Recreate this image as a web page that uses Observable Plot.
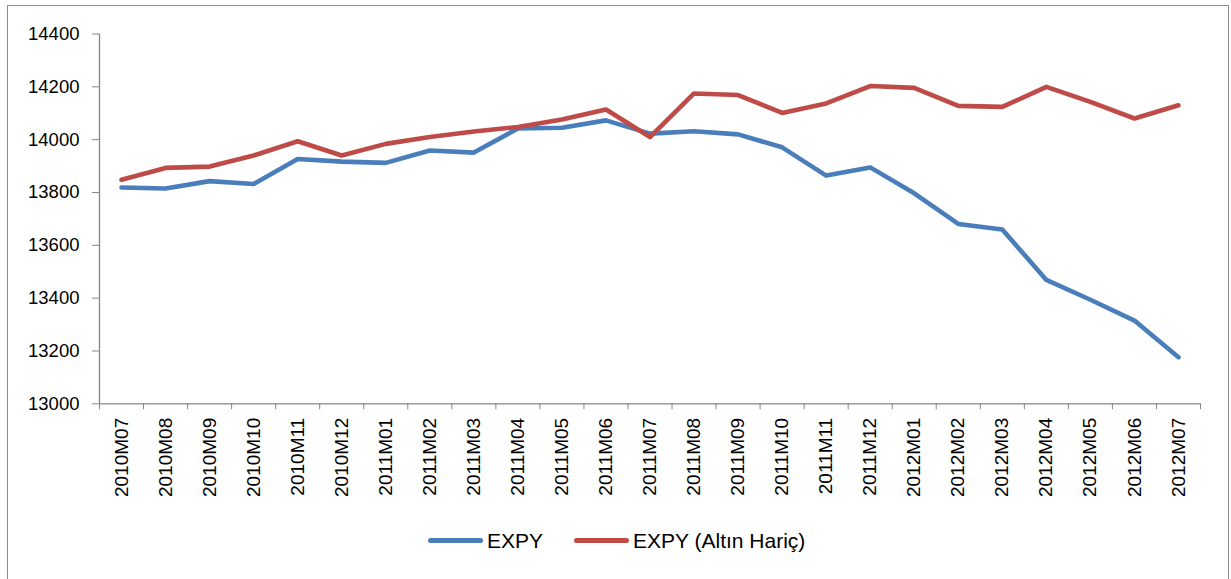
<!DOCTYPE html>
<html>
<head>
<meta charset="utf-8">
<script src="https://cdn.jsdelivr.net/npm/d3@7"></script>
<script src="https://cdn.jsdelivr.net/npm/@observablehq/plot@0.6"></script>
<style>
  body { margin: 0; background: #fff; font-family: "Liberation Sans", Arial, sans-serif; }
  #wrap { position: relative; width: 1231px; height: 579px; overflow: hidden; background: #fff; }
  #frame { position: absolute; left: 7px; top: 5px; width: 1222px; height: 620px; border: 1px solid #8c8c8c; box-sizing: border-box; }
  #chart { position: absolute; left: 0; top: 0; }
  #legend { position: absolute; top: 528px; left: 428px; display: flex; align-items: center; font-size: 21px; line-height: 25px; color: #000; white-space: nowrap; }
  .sw { display: inline-block; width: 55px; height: 5px; border-radius: 3px; margin-right: 4px; }
  .item { display: flex; align-items: center; }
</style>
</head>
<body>
<div id="wrap">
  <div id="frame"></div>
  <div id="chart"></div>
  <div id="legend"></div>
</div>
<script>
const months = ["2010M07","2010M08","2010M09","2010M10","2010M11","2010M12","2011M01","2011M02","2011M03","2011M04","2011M05","2011M06","2011M07","2011M08","2011M09","2011M10","2011M11","2011M12","2012M01","2012M02","2012M03","2012M04","2012M05","2012M06","2012M07"];
const expy = [13819,13815,13843,13832,13927,13917,13912,13959,13951,14042,14045,14073,14023,14032,14020,13971,13864,13895,13797,13681,13660,13469,13394,13315,13176];
const expyAltinHaric = [13848,13893,13898,13940,13994,13940,13984,14010,14031,14048,14076,14114,14010,14175,14169,14101,14137,14203,14196,14128,14124,14200,14143,14080,14130];
const seriesNames = ["EXPY", "EXPY (Altın Hariç)"];
const seriesColors = ["#4A7EBB", "#BE4B48"];
const yTicks = [13000,13200,13400,13600,13800,14000,14200,14400];

const rows = [];
months.forEach((m, i) => {
  rows.push({i, month: m, series: seriesNames[0], value: expy[i]});
});
months.forEach((m, i) => {
  rows.push({i, month: m, series: seriesNames[1], value: expyAltinHaric[i]});
});

const axisGray = "#868686";
const font = "'Liberation Sans', Arial, sans-serif";

const chart = Plot.plot({
  width: 1231,
  height: 510,
  marginLeft: 99,
  marginRight: 31,
  marginTop: 33.5,
  marginBottom: 106.7,
  style: { fontFamily: font, fontSize: "18px", background: "transparent", color: "#000" },
  x: { type: "linear", domain: [-0.5, months.length - 0.5], label: null, axis: null },
  y: { domain: [13000, 14400], label: null, axis: null },
  color: { domain: seriesNames, range: seriesColors },
  marks: [
    Plot.ruleX([-0.5], { stroke: axisGray, strokeWidth: 1.3 }),
    Plot.ruleY([13000], { stroke: axisGray, strokeWidth: 1.3 }),
    Plot.axisY({ ticks: yTicks, tickSize: 7, tickPadding: 13, tickFormat: d => String(d), stroke: axisGray, fill: "#000", fontSize: 18.5, label: null }),
    Plot.axisX({ ticks: d3.range(-0.5, months.length, 1), tickSize: 6, tickFormat: () => "", stroke: axisGray, label: null }),
    Plot.axisX({ ticks: d3.range(months.length), tickSize: 0, tickPadding: 14, tickRotate: -90, tickFormat: i => months[i], fill: "#000", fontSize: 19, label: null }),
    Plot.line(rows, { x: "i", y: "value", z: "series", stroke: "series", strokeWidth: 4.6, strokeLinecap: "round", strokeLinejoin: "round" })
  ]
});
document.getElementById("chart").appendChild(chart);

const legend = document.getElementById("legend");
seriesNames.forEach((name, k) => {
  const item = document.createElement("div");
  item.className = "item";
  if (k > 0) item.style.marginLeft = "31px";
  const sw = document.createElement("span");
  sw.className = "sw";
  sw.style.background = seriesColors[k];
  const t = document.createElement("span");
  t.textContent = name;
  item.appendChild(sw);
  item.appendChild(t);
  legend.appendChild(item);
});
</script>
</body>
</html>
